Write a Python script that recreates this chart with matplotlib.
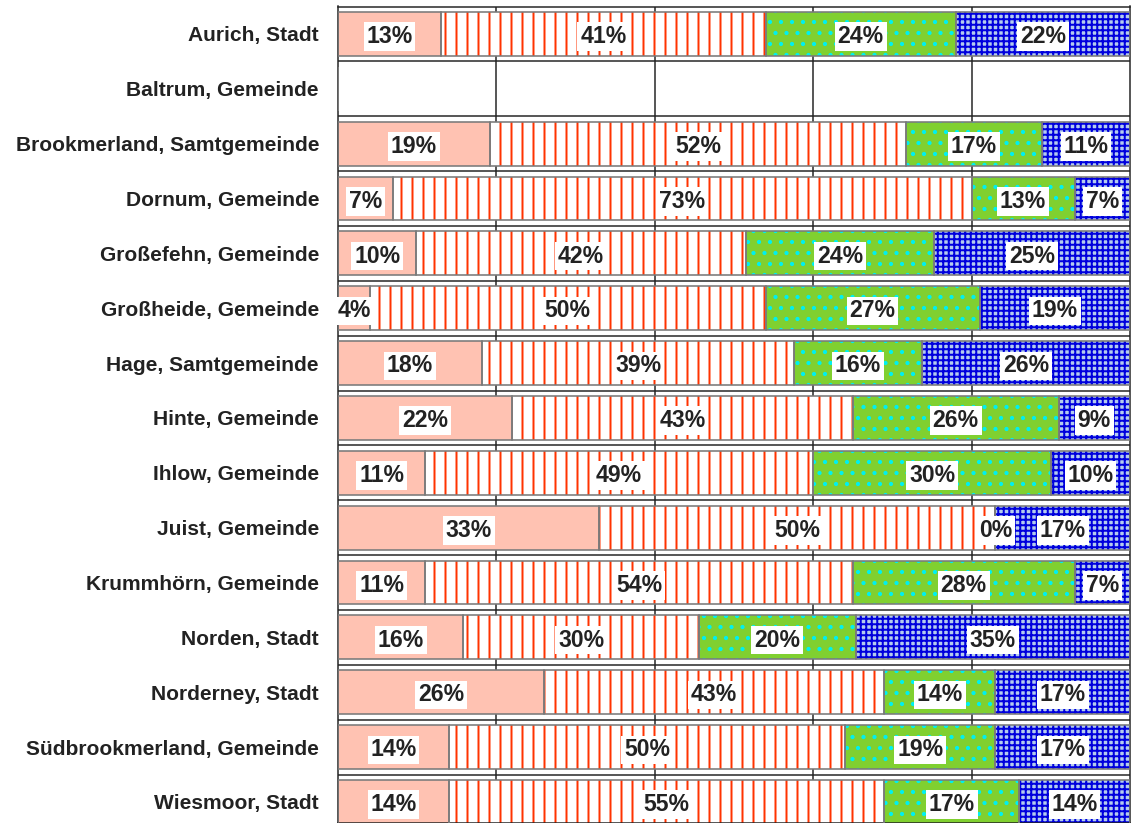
import matplotlib
matplotlib.use("Agg")
import matplotlib.pyplot as plt
import numpy as np

categories = [
    "Aurich, Stadt", "Baltrum, Gemeinde", "Brookmerland, Samtgemeinde",
    "Dornum, Gemeinde", "Großefehn, Gemeinde", "Großheide, Gemeinde",
    "Hage, Samtgemeinde", "Hinte, Gemeinde", "Ihlow, Gemeinde",
    "Juist, Gemeinde", "Krummhörn, Gemeinde", "Norden, Stadt",
    "Norderney, Stadt", "Südbrookmerland, Gemeinde", "Wiesmoor, Stadt",
]
seg1 = [13, 0, 19, 7, 10, 4, 18, 22, 11, 33, 11, 16, 26, 14, 14]
seg2 = [41, 0, 52, 73, 42, 50, 39, 43, 49, 50, 54, 30, 43, 50, 55]
seg3 = [24, 0, 17, 13, 24, 27, 16, 26, 30, 0, 28, 20, 14, 19, 17]
seg4 = [22, 0, 11, 7, 25, 19, 26, 9, 10, 17, 7, 35, 17, 17, 14]
has_data = [True, False] + [True] * 13

DPI = 66
def pt(px):
    return px * 72.0 / DPI

plt.rcParams["hatch.linewidth"] = pt(2.0)

W, H = 1132, 823
fig = plt.figure(figsize=(W / DPI, H / DPI), dpi=DPI)
row_px = 54.86
top_px = 6.5
ax = fig.add_axes([338 / W, 0, (1130 - 338) / W, 1 - top_px / H])
span = (H - top_px) / row_px
ax.set_ylim(-0.5 + span, -0.5)
ax.set_xlim(0, 1)

segs = np.array([seg1, seg2, seg3, seg4], dtype=float)
tot = segs.sum(axis=0)
tot[tot == 0] = 1
frac = segs / tot

face = ["#FFC2B2", "#FFFFFF", "#80D030", "#B4CCEE"]
hatchc = [None, "#FF3300", "#00F0F0", "#0000DD"]
hatches = [None, "|", ".", "++"]

y = np.arange(len(categories))
bh = 0.80
left = np.zeros(len(categories))
for k in range(4):
    w = frac[k]
    if hatches[k]:
        ax.barh(y, w, left=left, height=bh, color=face[k],
                edgecolor=hatchc[k], hatch=hatches[k], linewidth=0, zorder=2)
    else:
        ax.barh(y, w, left=left, height=bh, color=face[k], linewidth=0, zorder=2)
    ax.barh(y, w, left=left, height=bh, fill=False, edgecolor="#7a7a7a",
            linewidth=pt(1.6), zorder=3)
    for i in range(len(categories)):
        if not has_data[i]:
            continue
        vals = [seg1, seg2, seg3, seg4][k]
        ax.text(left[i] + w[i] / 2, y[i] + 0.05, f"{vals[i]}%", ha="center", va="center",
                fontsize=pt(23), fontweight="bold", color="#222222",
                family=["Liberation Sans", "DejaVu Sans"], zorder=5,
                bbox=dict(boxstyle="square,pad=0.12", facecolor="white", edgecolor="none"))
    left = left + w

ax.set_yticks(y)
ax.set_yticklabels(categories, fontsize=pt(21), fontweight="bold",
                   family=["Liberation Sans", "DejaVu Sans"], color="#222222")
ax.tick_params(axis="y", length=0, pad=pt(19))
ax.set_xticks([0.2, 0.4, 0.6, 0.8])
ax.tick_params(axis="x", length=0, labelbottom=False)
ax.set_yticks(np.arange(len(categories) - 1) + 0.5, minor=True)
ax.tick_params(axis="y", which="minor", length=0)
ax.grid(True, axis="x", which="major", color="#222222", linewidth=pt(1.5), zorder=0)
ax.grid(True, axis="y", which="minor", color="#222222", linewidth=pt(1.5), zorder=0)
ax.set_axisbelow(True)
for s in ax.spines.values():
    s.set_color("#222222")
    s.set_linewidth(pt(1.5))

fig.savefig("out.png", dpi=DPI)
